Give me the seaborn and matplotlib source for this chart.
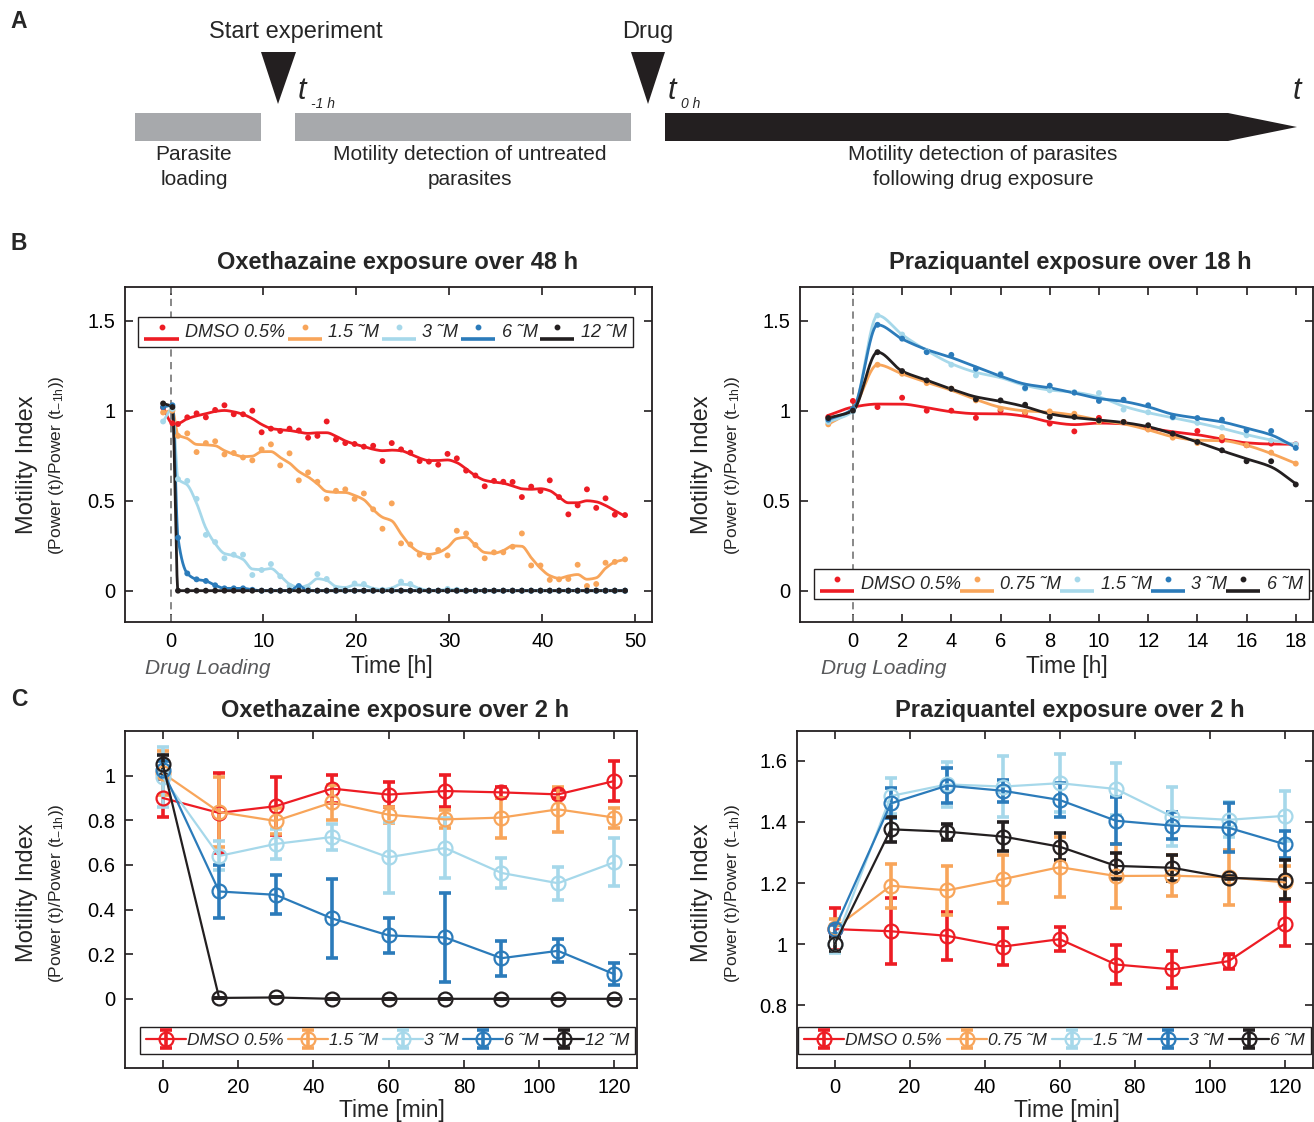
import numpy as np
import matplotlib
matplotlib.use("Agg")
import matplotlib.pyplot as plt
import seaborn as sns
from matplotlib.lines import Line2D
from matplotlib.patches import Rectangle, Polygon
from matplotlib.legend_handler import HandlerBase, HandlerTuple


# ---- data -----------------------------------------------------------------
# Panel B left: Oxethazaine, hourly readings over 48 h
oxe_hours = np.array([-0.8, 0.2] + [0.8 + k for k in range(48)] + [48.9])
oxe_dmso = [1.017, 0.93, 0.926, 0.963, 0.985, 0.963, 1.004, 1.03, 0.98, 0.98,
            1.0, 0.88, 0.90, 0.887, 0.90, 0.89, 0.85, 0.86, 0.94, 0.84,
            0.82, 0.815, 0.80, 0.805, 0.72, 0.82, 0.785, 0.767, 0.72, 0.717,
            0.70, 0.76, 0.735, 0.667, 0.64, 0.58, 0.61, 0.605, 0.604, 0.52,
            0.578, 0.554, 0.613, 0.52, 0.424, 0.474, 0.563, 0.46, 0.513, 0.422,
            0.42]
oxe_1_5 = [0.99, 1.0, 0.86, 0.874, 0.77, 0.82, 0.83, 0.757, 0.765, 0.74,
           0.724, 0.785, 0.813, 0.696, 0.763, 0.613, 0.657, 0.605, 0.51, 0.555,
           0.563, 0.51, 0.54, 0.452, 0.344, 0.485, 0.263, 0.257, 0.20, 0.185,
           0.226, 0.196, 0.333, 0.318, 0.254, 0.18, 0.213, 0.213, 0.244, 0.318,
           0.14, 0.14, 0.06, 0.063, 0.065, 0.144, 0.026, 0.037, 0.155, 0.16,
           0.174]
oxe_3 = [0.94, 1.01, 0.62, 0.61, 0.51, 0.31, 0.27, 0.18, 0.20, 0.20,
         0.087, 0.115, 0.148, 0.08, 0.026, 0.013, 0.013, 0.092, 0.065, 0.01,
         0.01, 0.04, 0.037, 0.005, 0.005, 0.005, 0.05, 0.037, 0.005, 0.0,
         0.0, 0.01, 0.005, 0.0, 0.0, 0.0, 0.0, 0.0, 0.0, 0.0,
         0.0, 0.0, 0.0, 0.0, 0.0, 0.0, 0.0, 0.0, 0.0, 0.0,
         0.0]
oxe_6 = [1.02, 1.03, 0.294, 0.096, 0.063, 0.054, 0.03, 0.013, 0.013, 0.013,
         0.005, 0.0, 0.0, 0.0, 0.0, 0.026, 0.0, 0.0, 0.0, 0.0,
         0.0, 0.0, 0.0, 0.0, 0.0, 0.0, 0.0, 0.0, 0.0, 0.0,
         0.0, 0.0, 0.0, 0.0, 0.0, 0.0, 0.0, 0.0, 0.0, 0.0,
         0.0, 0.0, 0.0, 0.0, 0.0, 0.0, 0.0, 0.0, 0.0, 0.0,
         0.0]
oxe_12 = [1.04, 1.02] + [0.0] * 49

# Panel B right: Praziquantel, hourly readings over 18 h
pzq_hours = np.arange(-1, 19)
pzq_dmso = [0.965, 1.054, 1.02, 1.072, 1.0, 1.0, 0.96, 1.0, 0.987, 0.928,
            0.885, 0.96, 0.937, 0.90, 0.869, 0.887, 0.835, 0.808, 0.817, 0.813]
pzq_0_75 = [0.924, 1.01, 1.255, 1.205, 1.153, 1.122, 1.057, 1.01, 0.993, 0.996,
            0.983, 0.937, 0.937, 0.895, 0.85, 0.82, 0.854, 0.808, 0.767, 0.706]
pzq_1_5 = [0.937, 0.996, 1.529, 1.423, 1.329, 1.255, 1.196, 1.205, 1.122, 1.113,
           1.103, 1.098, 1.006, 0.991, 0.961, 0.932, 0.906, 0.863, 0.835, 0.813]
pzq_3 = [0.95, 1.01, 1.477, 1.40, 1.325, 1.31, 1.233, 1.20, 1.126, 1.139,
         1.10, 1.054, 1.061, 1.03, 0.965, 0.959, 0.95, 0.891, 0.887, 0.793]
pzq_6 = [0.959, 1.0, 1.325, 1.22, 1.168, 1.122, 1.063, 1.057, 1.033, 0.965,
         0.965, 0.946, 0.937, 0.919, 0.872, 0.826, 0.78, 0.719, 0.719, 0.59]

# Panel C: 2 h, every 15 min, mean and error
minutes = [0, 15, 30, 45, 60, 75, 90, 105, 120]
oxe2_dmso = [0.90, 0.833, 0.863, 0.942, 0.915, 0.931, 0.925, 0.916, 0.976]
oxe2_dmso_err = [0.087, 0.18, 0.13, 0.063, 0.057, 0.073, 0.024, 0.018, 0.088]
oxe2_1_5 = [1.012, 0.837, 0.797, 0.88, 0.825, 0.804, 0.812, 0.849, 0.812]
oxe2_1_5_err = [0.10, 0.157, 0.06, 0.08, 0.035, 0.04, 0.09, 0.10, 0.045]
oxe2_3 = [0.994, 0.64, 0.694, 0.725, 0.634, 0.676, 0.564, 0.518, 0.612]
oxe2_3_err = [0.136, 0.065, 0.066, 0.06, 0.158, 0.135, 0.068, 0.073, 0.107]
oxe2_6 = [1.024, 0.481, 0.466, 0.36, 0.284, 0.275, 0.182, 0.215, 0.11]
oxe2_6_err = [0.04, 0.117, 0.088, 0.176, 0.079, 0.20, 0.078, 0.052, 0.049]
oxe2_12 = [1.054, 0.004, 0.006, 0.0, 0.0, 0.0, 0.0, 0.0, 0.0]
oxe2_12_err = [0.04, 0, 0, 0, 0, 0, 0, 0, 0]

pzq2_dmso = [1.049, 1.042, 1.027, 0.992, 1.016, 0.933, 0.917, 0.944, 1.067]
pzq2_dmso_err = [0.068, 0.108, 0.078, 0.059, 0.039, 0.064, 0.061, 0.025, 0.074]
pzq2_0_75 = [1.051, 1.191, 1.176, 1.213, 1.252, 1.223, 1.224, 1.219, 1.202]
pzq2_0_75_err = [0.03, 0.072, 0.08, 0.078, 0.098, 0.104, 0.068, 0.09, 0.055]
pzq2_1_5 = [1.0, 1.485, 1.523, 1.516, 1.527, 1.508, 1.417, 1.407, 1.42]
pzq2_1_5_err = [0.03, 0.06, 0.073, 0.10, 0.095, 0.086, 0.096, 0.057, 0.082]
pzq2_3 = [1.049, 1.461, 1.519, 1.502, 1.472, 1.404, 1.388, 1.381, 1.327]
pzq2_3_err = [0.015, 0.049, 0.057, 0.037, 0.055, 0.077, 0.045, 0.08, 0.045]
pzq2_6 = [1.0, 1.376, 1.368, 1.352, 1.319, 1.256, 1.25, 1.217, 1.211]
pzq2_6_err = [0.022, 0.04, 0.026, 0.047, 0.044, 0.042, 0.042, 0.005, 0.064]

oxe_labels = ["DMSO 0.5%", "1.5 ˜M", "3 ˜M", "6 ˜M", "12 ˜M"]
pzq_labels = ["DMSO 0.5%", "0.75 ˜M", "1.5 ˜M", "3 ˜M", "6 ˜M"]

# ---- style ----------------------------------------------------------------
COLORS = ["#ED1C24", "#F8A55A", "#A6D8EA", "#2B7BBA", "#231F20"]
INK = "#231F20"
W, H = 1314, 1122

sns.set_theme(style="ticks")
plt.rcParams["font.family"] = ["Liberation Sans", "DejaVu Sans"]
plt.rcParams["mathtext.default"] = "regular"
plt.rcParams["axes.edgecolor"] = INK
plt.rcParams["axes.linewidth"] = 1.3


def fitted_values(x, y, bw, keep=0):
    """Local linear Gaussian-kernel fit at the readings (first `keep` left as is)."""
    x = np.asarray(x, float)
    y = np.asarray(y, float)
    fit = y.copy()
    if bw is None:
        return fit
    xs, ys = x[keep:], y[keep:]
    for i, g in enumerate(xs):
        w = np.sqrt(np.exp(-0.5 * ((xs - g) / bw) ** 2))
        X = np.vstack([np.ones_like(xs), xs - g]).T
        fit[keep + i] = np.linalg.lstsq(X * w[:, None], ys * w, rcond=None)[0][0]
    return fit


def pchip_curve(x, y, n=800):
    """Shape-preserving cubic through the fitted values (no overshoot)."""
    x = np.asarray(x, float)
    y = np.asarray(y, float)
    h = np.diff(x)
    delta = np.diff(y) / h
    d = np.zeros_like(y)
    for k in range(1, len(x) - 1):
        if delta[k - 1] * delta[k] > 0:
            w1 = 2 * h[k] + h[k - 1]
            w2 = h[k] + 2 * h[k - 1]
            d[k] = (w1 + w2) / (w1 / delta[k - 1] + w2 / delta[k])
    d[0], d[-1] = delta[0], delta[-1]
    grid = np.linspace(x[0], x[-1], n)
    idx = np.clip(np.searchsorted(x, grid) - 1, 0, len(x) - 2)
    t = (grid - x[idx]) / h[idx]
    h00 = 2 * t**3 - 3 * t**2 + 1
    h10 = t**3 - 2 * t**2 + t
    h01 = -2 * t**3 + 3 * t**2
    h11 = t**3 - t**2
    vals = h00 * y[idx] + h10 * h[idx] * d[idx] + h01 * y[idx + 1] + h11 * h[idx] * d[idx + 1]
    return grid, vals


class DotOverLine(HandlerBase):
    """MATLAB-like legend entry: a small dot above a short line."""
    def create_artists(self, legend, orig_handle, xdescent, ydescent,
                       width, height, fontsize, trans):
        c = orig_handle.get_color()
        line = Line2D([-xdescent, -xdescent + width], [-ydescent - 0.2 * height] * 2,
                      color=c, lw=2.6, transform=trans, solid_capstyle="butt")
        dot = Line2D([-xdescent + width / 2], [-ydescent + 0.75 * height],
                     marker="o", ms=3.2, color=c, ls="none", transform=trans)
        return [line, dot]


def add_axes_px(fig, left, top, right, bottom):
    return fig.add_axes([left / W, 1 - bottom / H, (right - left) / W, (bottom - top) / H])


def style_axes(ax):
    ax.tick_params(direction="in", top=True, right=True, length=6, width=1.2,
                   labelsize=14.5, pad=7, colors=INK, labelcolor="black")
    for s in ax.spines.values():
        s.set_color(INK)
        s.set_linewidth(1.3)


def y_labels(fig, x, y):
    fig.text(x / W, 1 - y / H, "Motility Index", rotation=90, ha="center", va="center",
             fontsize=17)
    fig.text((x + 30) / W, 1 - y / H, r"(Power (t)/Power (t$_{-1h}$))", rotation=90,
             ha="center", va="center", fontsize=12.5)


def px_text(fig, x, y, s, **kw):
    kw.setdefault("ha", "center")
    kw.setdefault("va", "center")
    fig.text(x / W, 1 - y / H, s, **kw)


def plot_long(ax, hours, series, bws, keeps):
    for vals, c, bw, keep in zip(series, COLORS, bws, keeps):
        gx, gy = pchip_curve(hours, fitted_values(hours, vals, bw, keep))
        sns.lineplot(x=gx, y=gy, color=c, linewidth=2.0, ax=ax, zorder=2)
    for vals, c in zip(series, COLORS):
        sns.scatterplot(x=hours, y=vals, color=c, s=18, edgecolor="none", ax=ax, zorder=3)
    ax.axvline(0, color="#7F7F7F", ls=(0, (4, 3)), lw=1.3, zorder=1)
    return [Line2D([], [], color=c) for c in COLORS]


def plot_short(ax, series, errs):
    handles = []
    for vals, err, c in zip(series, errs, COLORS):
        eb = ax.errorbar(minutes, vals, yerr=err, fmt="none", ecolor=c, elinewidth=2.6,
                         capsize=4, capthick=2.6, zorder=2)
        sns.lineplot(x=minutes, y=vals, color=c, linewidth=1.6, marker="o", markersize=10,
                     markerfacecolor="none", markeredgecolor=c, markeredgewidth=1.6,
                     ax=ax, zorder=3)
        proxy = Line2D([], [], color=c, lw=1.6, marker="o", ms=10, mfc="none", mec=c, mew=1.6)
        handles.append((eb, proxy))
    return handles


def long_legend(ax, handles, labels, box):
    ax.legend(handles, labels, handler_map={Line2D: DotOverLine()}, ncol=5, mode="expand",
              loc="lower left", bbox_to_anchor=box,
              prop={"style": "italic", "size": 13}, frameon=True, fancybox=False,
              edgecolor=INK, framealpha=1, handlelength=1.9, handletextpad=0.35,
              borderaxespad=0, borderpad=0.35, columnspacing=0.6)


fig = plt.figure(figsize=(W / 100, H / 100), dpi=100)

# ---- panel A: experiment timeline ----------------------------------------
axA = fig.add_axes([0, 1 - 200 / H, 1, 200 / H])
axA.set_xlim(0, W)
axA.set_ylim(200, 0)
axA.axis("off")
grey = "#A7A9AC"
axA.add_patch(Rectangle((135, 113), 126, 28, color=grey, lw=0))
axA.add_patch(Rectangle((295, 113), 336, 28, color=grey, lw=0))
axA.add_patch(Polygon([(665, 113), (1228, 113), (1297, 127), (1228, 141), (665, 141)],
                      closed=True, color=INK, lw=0))
axA.add_patch(Polygon([(261, 52), (296, 52), (278, 104)], closed=True, color=INK, lw=0))
axA.add_patch(Polygon([(631, 52), (665, 52), (648, 104)], closed=True, color=INK, lw=0))
axA.text(10, 22, "A", fontsize=16.5, fontweight="bold", va="center")
axA.text(296, 32, "Start experiment", fontsize=17, ha="center", va="center")
axA.text(648, 32, "Drug", fontsize=17, ha="center", va="center")
for tx, sub in [(298, "-1 h"), (668, "0 h")]:
    axA.text(tx, 91, "t", fontsize=22, style="italic", ha="left", va="center")
    axA.text(tx + 13, 104, sub, fontsize=10, style="italic", ha="left", va="center")
axA.text(1301, 91, "t", fontsize=22, style="italic", ha="right", va="center")
for cx, txt in [(194, "Parasite\nloading"),
                (470, "Motility detection of untreated\nparasites"),
                (983, "Motility detection of parasites\nfollowing drug exposure")]:
    axA.text(cx, 167, txt, fontsize=15, ha="center", va="center", linespacing=1.42)

# ---- panel B --------------------------------------------------------------
px_text(fig, 11, 243, "B", fontsize=16.5, fontweight="bold", ha="left")
px_text(fig, 11, 700, "C", fontsize=16.5, fontweight="bold", ha="left")

axB1 = add_axes_px(fig, 125, 287, 652, 622)
hB1 = plot_long(axB1, oxe_hours, [oxe_dmso, oxe_1_5, oxe_3, oxe_6, oxe_12],
                [1.2, 0.9, 0.75, None, None], [2, 2, 2, 2, 2])
axB1.set_xlim(-4.9, 51.8)
axB1.set_ylim(-0.174, 1.687)
axB1.set_xticks([0, 10, 20, 30, 40, 50])
axB1.set_yticks([0, 0.5, 1, 1.5], ["0", "0.5", "1", "1.5"])
style_axes(axB1)
long_legend(axB1, hB1, oxe_labels, (0.025, 0.821, 0.939, 0.113))

axB2 = add_axes_px(fig, 800, 287, 1313, 622)
hB2 = plot_long(axB2, pzq_hours, [pzq_dmso, pzq_0_75, pzq_1_5, pzq_3, pzq_6],
                [1.0, 0.8, 0.8, 0.8, 0.8], [0, 3, 3, 3, 3])
axB2.set_xlim(-2.15, 18.7)
axB2.set_ylim(-0.174, 1.687)
axB2.set_xticks(list(range(0, 19, 2)))
axB2.set_yticks([0, 0.5, 1, 1.5], ["0", "0.5", "1", "1.5"])
style_axes(axB2)
long_legend(axB2, hB2, pzq_labels, (0.027, 0.069, 0.965, 0.113))

px_text(fig, 398, 263, "Oxethazaine exposure over 48 h", fontsize=17, fontweight="bold")
px_text(fig, 1070, 263, "Praziquantel exposure over 18 h", fontsize=17, fontweight="bold")
px_text(fig, 392, 667, "Time [h]", fontsize=16.5)
px_text(fig, 1067, 667, "Time [h]", fontsize=16.5)
px_text(fig, 208, 668, "Drug Loading", fontsize=15, style="italic", color="#58595B")
px_text(fig, 884, 668, "Drug Loading", fontsize=15, style="italic", color="#58595B")
y_labels(fig, 27, 465)
y_labels(fig, 702, 465)

# ---- panel C --------------------------------------------------------------
axC1 = add_axes_px(fig, 125, 731, 637, 1068)
hC1 = plot_short(axC1, [oxe2_dmso, oxe2_1_5, oxe2_3, oxe2_6, oxe2_12],
                 [oxe2_dmso_err, oxe2_1_5_err, oxe2_3_err, oxe2_6_err, oxe2_12_err])
axC1.set_xlim(-10, 126)
axC1.set_ylim(-0.31, 1.2)
axC1.set_xticks([0, 20, 40, 60, 80, 100, 120])
axC1.set_yticks([0, 0.2, 0.4, 0.6, 0.8, 1], ["0", "0.2", "0.4", "0.6", "0.8", "1"])
style_axes(axC1)

axC2 = add_axes_px(fig, 797, 731, 1313, 1068)
hC2 = plot_short(axC2, [pzq2_dmso, pzq2_0_75, pzq2_1_5, pzq2_3, pzq2_6],
                 [pzq2_dmso_err, pzq2_0_75_err, pzq2_1_5_err, pzq2_3_err, pzq2_6_err])
axC2.set_xlim(-10, 127.5)
axC2.set_ylim(0.594, 1.698)
axC2.set_xticks([0, 20, 40, 60, 80, 100, 120])
axC2.set_yticks([0.8, 1, 1.2, 1.4, 1.6], ["0.8", "1", "1.2", "1.4", "1.6"])
style_axes(axC2)

for ax, handles, labels, box in [(axC1, hC1, oxe_labels, (0.029, 0.041, 0.967, 0.112)),
                                 (axC2, hC2, pzq_labels, (0.002, 0.041, 0.994, 0.112))]:
    ax.legend(handles, labels, handler_map={tuple: HandlerTuple(ndivide=1)}, ncol=5,
              mode="expand", loc="lower left", bbox_to_anchor=box, numpoints=1,
              prop={"style": "italic", "size": 12.5}, frameon=True, fancybox=False,
              edgecolor=INK, framealpha=1, handlelength=2.3, handletextpad=0.05,
              borderaxespad=0, borderpad=0.35, columnspacing=0.1)

px_text(fig, 395, 711, "Oxethazaine exposure over 2 h", fontsize=17, fontweight="bold")
px_text(fig, 1070, 711, "Praziquantel exposure over 2 h", fontsize=17, fontweight="bold")
px_text(fig, 392, 1110, "Time [min]", fontsize=16.5)
px_text(fig, 1067, 1110, "Time [min]", fontsize=16.5)
y_labels(fig, 27, 893)
y_labels(fig, 702, 893)

fig.savefig("out.png", dpi=100)
plt.close(fig)
